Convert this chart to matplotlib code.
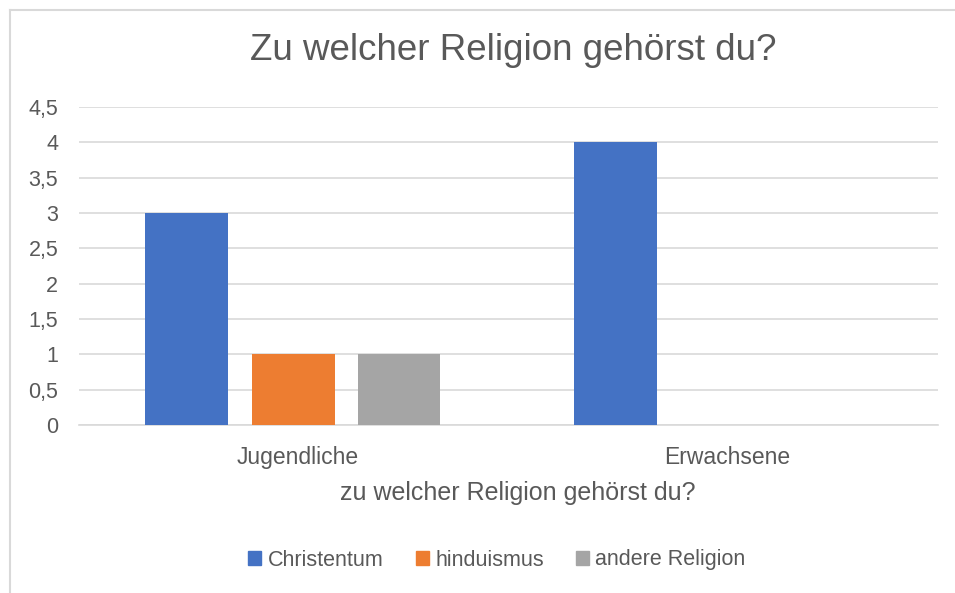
import matplotlib
matplotlib.use("Agg")
import matplotlib.pyplot as plt
import numpy as np
from matplotlib.lines import Line2D

categories = ["Jugendliche", "Erwachsene"]
series_names = ["Christentum", "hinduismus", "andere Religion"]
christentum = [3, 4]
hinduismus = [1, 0]
andere = [1, 0]
yticks = [0, 0.5, 1, 1.5, 2, 2.5, 3, 3.5, 4, 4.5]
ytick_labels = ["0", "0,5", "1", "1,5", "2", "2,5", "3", "3,5", "4", "4,5"]

colors = ["#4472C4", "#ED7D31", "#A5A5A5"]
text_color = "#595959"
plt.rcParams['font.family'] = ['Liberation Sans', 'DejaVu Sans']

fig = plt.figure(figsize=(9.55, 5.93), dpi=100)
ax = fig.add_axes([79/955, 1-425/593, (938-79)/955, (425-107)/593])

x = np.arange(len(categories))
width = 0.193
offsets = [-0.25, 0.0, 0.245]
for vals, name, c, off in zip([christentum, hinduismus, andere], series_names, colors, offsets):
    ax.bar(x + off, vals, width, color=c, label=name, zorder=3)

ax.set_xlim(-0.5, 1.5)
ax.set_ylim(0, 4.5)
ax.set_yticks(yticks)
ax.set_yticklabels(ytick_labels)
ax.set_xticks(x + 0.01)
ax.set_xticklabels(categories)
ax.grid(axis='y', color='#D9D9D9', linewidth=1.2, zorder=0)
for s in ['top', 'right', 'left']:
    ax.spines[s].set_visible(False)
ax.spines['bottom'].set_color('#D9D9D9')
ax.spines['bottom'].set_linewidth(1.2)
ax.tick_params(axis='both', length=0, colors=text_color)
ax.tick_params(axis='x', pad=15, labelsize=16.5)
ax.tick_params(axis='y', pad=15, labelsize=15.5)
for lbl in ax.get_yticklabels():
    lbl.set_horizontalalignment('right')

fig.text(518/955, 1-493/593, "zu welcher Religion gehörst du?", ha='center', va='center',
         fontsize=18, color=text_color)
fig.text(513/955, 1-50/593, "Zu welcher Religion gehörst du?", ha='center', va='center',
         fontsize=26.5, color=text_color)

handles = [plt.Rectangle((0, 0), 1, 1, color=c) for c in colors]
fig.legend(handles, series_names, loc='center', bbox_to_anchor=(497/955, 1-560/593),
           ncol=3, frameon=False, fontsize=15.5, labelcolor=text_color,
           handlelength=0.6, handleheight=0.6, handletextpad=0.3, columnspacing=1.5)

# outer frame (left and top edges)
fig.add_artist(Line2D([10/955, 10/955], [0, 1-10/593], color='#D9D9D9', linewidth=1.5))
fig.add_artist(Line2D([10/955, 1], [1-10/593, 1-10/593], color='#D9D9D9', linewidth=1.5))

fig.savefig("out.png", dpi=100)
